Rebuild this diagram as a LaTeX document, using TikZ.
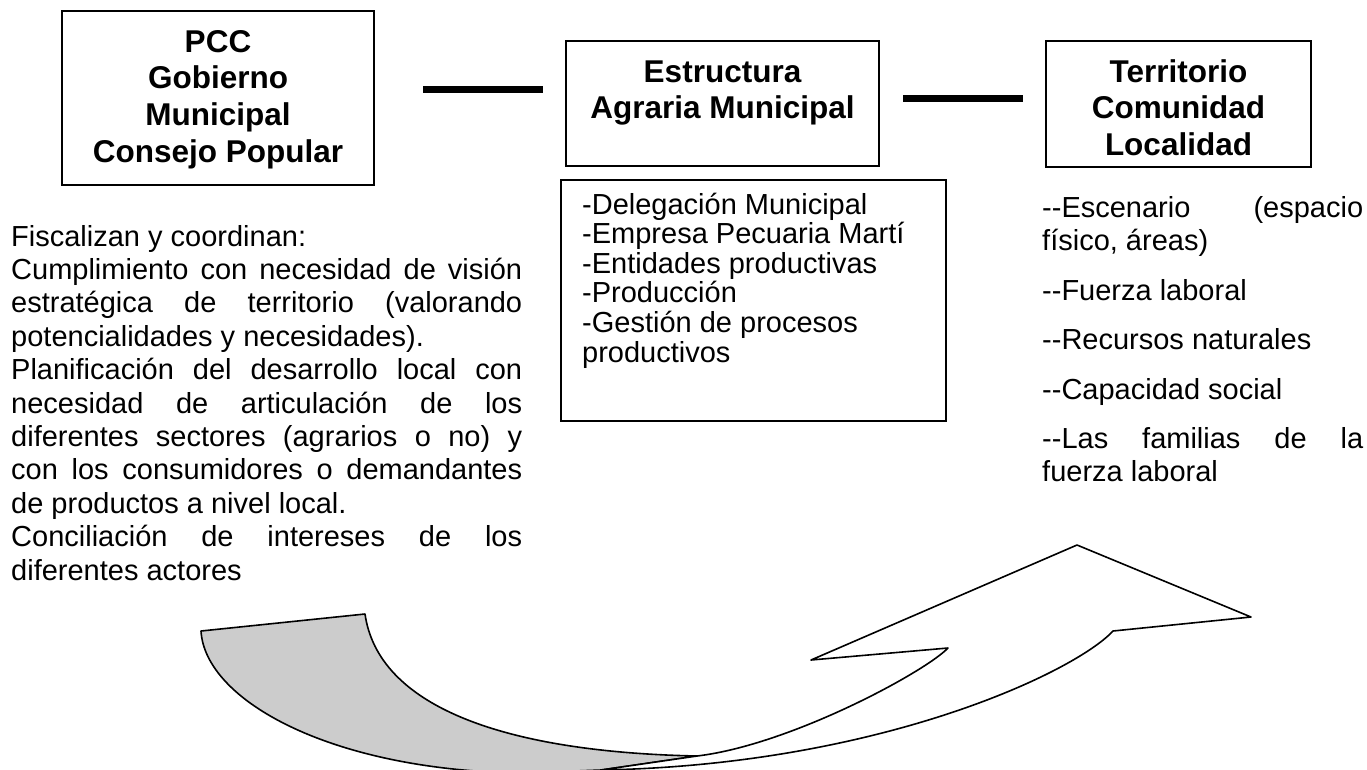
\documentclass[tikz,border=0pt]{standalone}
\usepackage{fontspec}
\setmainfont{Liberation Sans}
\tikzset{
  box/.style={draw=black, line width=1.6pt, inner sep=0pt},
  head/.style={font=\fontsize{31.5}{36.7}\selectfont\bfseries, inner sep=0pt, anchor=base},
  body/.style={font=\fontsize{29}{33.4}\selectfont, inner sep=0pt, anchor=base west},
  link/.style={line width=7pt},
  arrowline/.style={line width=1.6pt, line join=round},
}
\begin{document}
\begin{tikzpicture}[x=1pt,y=-1pt]
\useasboundingbox (0,0) rectangle (1367,769);
\fill[white] (0,0) rectangle (1367,769);

% boxes
\node[box, minimum width=312pt, minimum height=174pt] (box1) at (218,98) {};
\node[head] (t1) at (218,52) {\parbox[t]{300pt}{\centering PCC\\Gobierno\\Municipal\\Consejo Popular}};

\node[box, minimum width=313pt, minimum height=125pt] (box2) at (722.5,103.5) {};
\node[head] (t2) at (722.5,82) {\parbox[t]{300pt}{\centering Estructura\\Agraria Municipal}};

\node[box, minimum width=265pt, minimum height=126pt] (box3) at (1178.5,104) {};
\node[head] (t3) at (1178.5,82) {\parbox[t]{260pt}{\centering Territorio\\Comunidad\\Localidad}};

\node[box, minimum width=385pt, minimum height=241pt] (box4) at (753.5,300.5) {};
\node[body, font=\fontsize{29}{29.6}\selectfont] (t4) at (582,214) {\parbox[t]{355pt}{\raggedright
-Delegación Municipal\\
-Empresa Pecuaria Martí\\
-Entidades productivas\\
-Producción\\
-Gestión de procesos\\
productivos}};

% connectors
\coordinate (l1a) at (423,89);
\coordinate (l1b) at (543,89);
\coordinate (l2a) at (903,98);
\coordinate (l2b) at (1023,98);
\draw[link] (l1a) -- (l1b);
\draw[link] (l2a) -- (l2b);

% left text
\node[body] (t5) at (11,246) {\parbox[t]{511pt}{\tolerance=10000\hbadness=10000
Fiscalizan y coordinan:\par
Cumplimiento con necesidad de visión\linebreak
estratégica de territorio (valorando\linebreak
potencialidades y necesidades).\par
Planificación del desarrollo local con\linebreak
necesidad de articulación de los\linebreak
diferentes sectores (agrarios o no) y\linebreak
con los consumidores o demandantes\linebreak
de productos a nivel local.\par
Conciliación de intereses de los\linebreak
diferentes actores}};

% right text
\node[body] (t6) at (1042,217.5) {\parbox[t]{321pt}{\tolerance=10000\hbadness=10000\setlength{\parskip}{16pt}
-{}-Escenario (espacio\linebreak
físico, áreas)\par
-{}-Fuerza laboral\par
-{}-Recursos naturales\par
-{}-Capacidad social\par
-{}-Las familias de la\linebreak
fuerza laboral}};

% curved arrow
\begin{scope}
\clip (0,0) rectangle (1367,769);
\coordinate (A) at (201,631);
\coordinate (B) at (365,614);
\coordinate (X) at (697,756);
\coordinate (Q) at (601,770);
\coordinate (G) at (520,773);
\coordinate (Nr) at (1113,631);
\coordinate (R) at (1251,617);
\coordinate (H) at (1077,545);
\coordinate (L) at (811,660);
\coordinate (Nl) at (948,648);
\filldraw[arrowline, fill=black!20] (A) -- (B) .. controls (378,705) and (500,752) .. (X) -- (Q) -- (G) .. controls (330,770) and (205,700) .. (A) -- cycle;
\filldraw[arrowline, fill=white] (X) -- (Q) .. controls (880,765) and (1075,672) .. (Nr) -- (R) -- (H) -- (L) -- (Nl) .. controls (925,672) and (790,745) .. (X) -- cycle;
\end{scope}
\end{tikzpicture}
\end{document}
